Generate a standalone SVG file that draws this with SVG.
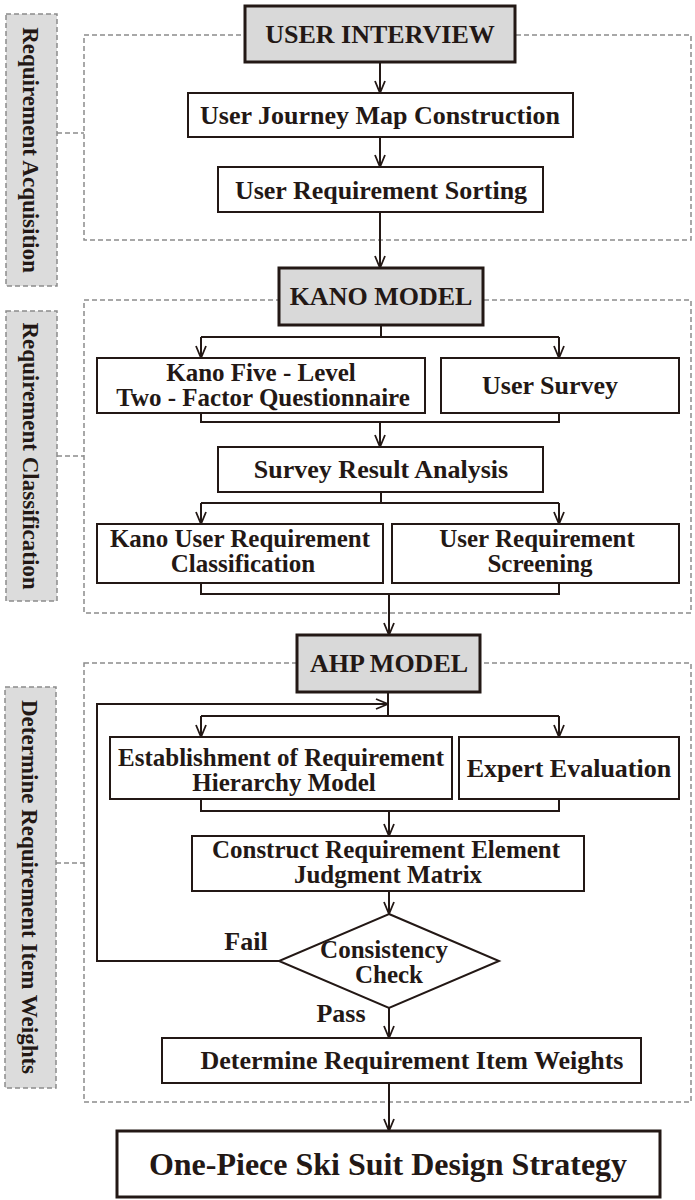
<svg xmlns="http://www.w3.org/2000/svg" width="695" height="1200" viewBox="0 0 695 1200">
<defs>
<style>
.t{font-family:"Liberation Serif","Times New Roman",serif;font-weight:bold;font-size:26px;fill:#231815;text-anchor:middle}
.two{font-size:25px}
.big{font-size:32px}
.side{font-size:23px}
.box{fill:#ffffff;stroke:#231815;stroke-width:2}
.head{fill:#d9d9d9;stroke:#231815;stroke-width:3}
.final{fill:#ffffff;stroke:#231815;stroke-width:3}
.grp{fill:none;stroke:#8c8c8c;stroke-width:1.5;stroke-dasharray:5,3}
.sbox{fill:#dcdcdc;stroke:#8c8c8c;stroke-width:1.5;stroke-dasharray:5,3}
.ln{fill:none;stroke:#231815;stroke-width:2}
.dl{fill:none;stroke:#8c8c8c;stroke-width:1.5;stroke-dasharray:5,3}
</style>
<marker id="ah" markerUnits="userSpaceOnUse" viewBox="0 0 14 12" refX="13" refY="6" markerWidth="14" markerHeight="12" orient="auto">
<path d="M1,1 L13,6 L1,11" fill="none" stroke="#231815" stroke-width="1.8"/>
</marker>
</defs>
<rect width="695" height="1200" fill="#ffffff"/>

<g id="groups">
<rect class="grp" x="84" y="35" width="607" height="205"/>
<rect class="grp" x="84" y="300" width="607" height="313"/>
<rect class="grp" x="84" y="663" width="607" height="439"/>
<line class="dl" x1="57" y1="133" x2="84" y2="133"/>
<line class="dl" x1="57" y1="456" x2="84" y2="456"/>
<line class="dl" x1="56" y1="863" x2="84" y2="863"/>
</g>

<g id="side1">
<rect class="sbox" x="6" y="14" width="51" height="272"/>
<text class="t side" transform="translate(23,150) rotate(90)">Requirement Acquisition</text>
</g>
<g id="side2">
<rect class="sbox" x="6" y="311" width="51" height="290"/>
<text class="t side" transform="translate(23,456) rotate(90)">Requirement Classification</text>
</g>
<g id="side3">
<rect class="sbox" x="5" y="687" width="51" height="401"/>
<text class="t side" transform="translate(22,887) rotate(90)">Determine Requirement Item Weights</text>
</g>

<g id="connectors">
<line class="ln" x1="380" y1="62" x2="380" y2="93" marker-end="url(#ah)"/>
<line class="ln" x1="380" y1="137" x2="380" y2="167" marker-end="url(#ah)"/>
<line class="ln" x1="380" y1="212" x2="380" y2="268" marker-end="url(#ah)"/>
<polyline class="ln" points="381,325 381,337"/>
<polyline class="ln" points="201,337 559,337"/>
<line class="ln" x1="201" y1="337" x2="201" y2="358" marker-end="url(#ah)"/>
<line class="ln" x1="559" y1="337" x2="559" y2="358" marker-end="url(#ah)"/>
<polyline class="ln" points="201,413 201,422 559,422 559,413"/>
<line class="ln" x1="380" y1="422" x2="380" y2="447" marker-end="url(#ah)"/>
<polyline class="ln" points="381,492 381,503"/>
<polyline class="ln" points="201,503 559,503"/>
<line class="ln" x1="201" y1="503" x2="201" y2="524" marker-end="url(#ah)"/>
<line class="ln" x1="559" y1="503" x2="559" y2="524" marker-end="url(#ah)"/>
<polyline class="ln" points="201,583 201,594 559,594 559,583"/>
<line class="ln" x1="389" y1="594" x2="389" y2="635" marker-end="url(#ah)"/>
<polyline class="ln" points="388,692 388,716"/>
<polyline class="ln" points="279,961 97,961 97,704 388,704" marker-end="url(#ah)"/>
<polyline class="ln" points="201,716 559,716"/>
<line class="ln" x1="201" y1="716" x2="201" y2="737" marker-end="url(#ah)"/>
<line class="ln" x1="559" y1="716" x2="559" y2="737" marker-end="url(#ah)"/>
<polyline class="ln" points="201,799 201,811 559,811 559,799"/>
<line class="ln" x1="389" y1="811" x2="389" y2="836" marker-end="url(#ah)"/>
<line class="ln" x1="389" y1="891" x2="389" y2="914" marker-end="url(#ah)"/>
<line class="ln" x1="389" y1="1008" x2="389" y2="1038" marker-end="url(#ah)"/>
<line class="ln" x1="389" y1="1083" x2="389" y2="1131" marker-end="url(#ah)"/>
<text class="t" x="246" y="950">Fail</text>
<text class="t" x="341" y="1022">Pass</text>
</g>

<g id="user-interview">
<rect class="head" x="245" y="6" width="270" height="56"/>
<text class="t" x="380" y="43">USER INTERVIEW</text>
</g>
<g id="journey-map">
<rect class="box" x="188" y="93" width="385" height="44"/>
<text class="t" x="380" y="124">User Journey Map Construction</text>
</g>
<g id="req-sorting">
<rect class="box" x="218" y="167" width="325" height="45"/>
<text class="t" x="381" y="199">User Requirement Sorting</text>
</g>
<g id="kano-model">
<rect class="head" x="279" y="268" width="204" height="57"/>
<text class="t" x="381" y="305">KANO MODEL</text>
</g>
<g id="kano-questionnaire">
<rect class="box" x="97" y="358" width="328" height="55"/>
<text class="t two" x="261" y="381">Kano Five - Level</text>
<text class="t two" x="263" y="406">Two - Factor Questionnaire</text>
</g>
<g id="user-survey">
<rect class="box" x="441" y="358" width="238" height="55"/>
<text class="t" x="550" y="394">User Survey</text>
</g>
<g id="survey-analysis">
<rect class="box" x="218" y="447" width="325" height="45"/>
<text class="t" x="381" y="478">Survey Result Analysis</text>
</g>
<g id="kano-classification">
<rect class="box" x="97" y="524" width="286" height="59"/>
<text class="t two" x="240" y="547">Kano User Requirement</text>
<text class="t two" x="243" y="572">Classification</text>
</g>
<g id="req-screening">
<rect class="box" x="392" y="524" width="287" height="59"/>
<text class="t two" x="537" y="547">User Requirement</text>
<text class="t two" x="540" y="572">Screening</text>
</g>
<g id="ahp-model">
<rect class="head" x="297" y="635" width="183" height="57"/>
<text class="t" x="389" y="672">AHP MODEL</text>
</g>
<g id="hierarchy-model">
<rect class="box" x="110" y="737" width="342" height="62"/>
<text class="t two" x="281" y="766">Establishment of Requirement</text>
<text class="t two" x="284" y="791">Hierarchy Model</text>
</g>
<g id="expert-evaluation">
<rect class="box" x="459" y="737" width="220" height="62"/>
<text class="t" x="569" y="777">Expert Evaluation</text>
</g>
<g id="judgment-matrix">
<rect class="box" x="192" y="836" width="392" height="55"/>
<text class="t two" x="386" y="858">Construct Requirement Element</text>
<text class="t two" x="388" y="883">Judgment Matrix</text>
</g>
<g id="consistency-check">
<polygon class="box" points="389,914 499,961 389,1008 279,961"/>
<text class="t two" x="384" y="958">Consistency</text>
<text class="t two" x="389" y="983">Check</text>
</g>
<g id="item-weights">
<rect class="box" x="162" y="1038" width="479" height="45"/>
<text class="t" x="412" y="1069">Determine Requirement Item Weights</text>
</g>
<g id="design-strategy">
<rect class="final" x="117" y="1131" width="543" height="66"/>
<text class="t big" x="388" y="1175">One-Piece Ski Suit Design Strategy</text>
</g>
</svg>
